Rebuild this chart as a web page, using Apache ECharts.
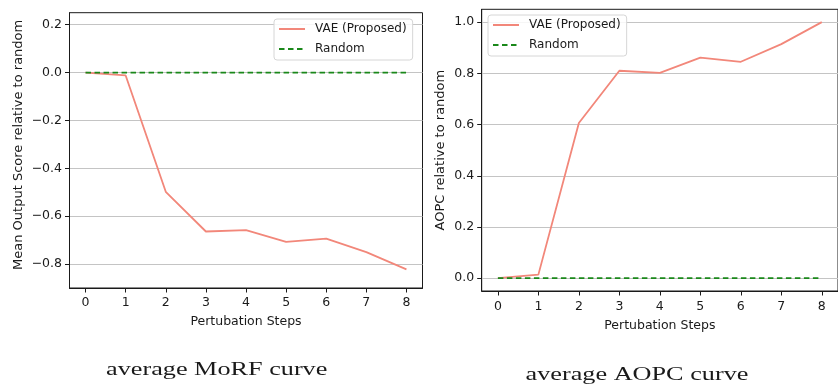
<!DOCTYPE html>
<html>
<head>
<meta charset="utf-8">
<script src="https://cdn.jsdelivr.net/npm/echarts@6/dist/echarts.min.js"></script>
<style>
html,body{margin:0;padding:0;background:#fff;}
#chart{width:838px;height:384px;}
</style>
</head>
<body>
<div id="chart"></div>
<script>
// ---- data ----
const steps = [0, 1, 2, 3, 4, 5, 6, 7, 8];
const morfVae = [0, -0.012, -0.498, -0.664, -0.658, -0.707, -0.694, -0.750, -0.822];
const morfRandom = [0, 0, 0, 0, 0, 0, 0, 0, 0];
const aopcVae = [0, 0.014, 0.606, 0.810, 0.802, 0.861, 0.845, 0.914, 1.000];
const aopcRandom = [0, 0, 0, 0, 0, 0, 0, 0, 0];
const morfYTicks = [-0.8, -0.6, -0.4, -0.2, 0.0, 0.2];
const aopcYTicks = [0.0, 0.2, 0.4, 0.6, 0.8, 1.0];
const seriesNames = ['VAE (Proposed)', 'Random'];
const xName = 'Pertubation Steps';
const morfYName = 'Mean Output Score relative to random';
const aopcYName = 'AOPC relative to random';
const captions = ['average MoRF curve', 'average AOPC curve'];

const pairs = (xs, ys) => xs.map((x, i) => [x, ys[i]]);
const fmt = v => (v < -1e-9 ? '\u2212' : '') + Math.abs(v).toFixed(1);
const FONT = 'DejaVu Sans';
const SALMON = '#f2877a';
const GREEN = '#1a881a';
const TXT = '#1a1a1a';

function xAxisCfg(idx, gap, margin) {
  return {
    type: 'value', gridIndex: idx, min: -0.4, max: 8.4,
    name: xName, nameLocation: 'middle', nameGap: gap,
    nameTextStyle: {fontFamily: FONT, fontSize: 12.5, color: TXT},
    axisLine: {show: true, onZero: false, lineStyle: {color: TXT, width: 1}},
    axisTick: {show: true, inside: false, length: 4.5, customValues: steps, lineStyle: {color: TXT, width: 1}},
    axisLabel: {customValues: steps, margin: margin, fontFamily: FONT, fontSize: 12.5, color: TXT},
    splitLine: {show: false}
  };
}
function yAxisCfg(idx, min, max, ticks, name, gap, namePad) {
  return {
    type: 'value', gridIndex: idx, min: min, max: max,
    name: name, nameLocation: 'middle', nameGap: gap,
    nameTextStyle: {fontFamily: FONT, fontSize: 13, color: TXT, padding: namePad},
    axisLine: {show: true, onZero: false, lineStyle: {color: TXT, width: 1}},
    axisTick: {show: true, inside: false, length: 4.5, customValues: ticks, lineStyle: {color: TXT, width: 1}},
    axisLabel: {customValues: ticks, margin: 7.5, fontFamily: FONT, fontSize: 12.5, color: TXT, formatter: fmt},
    splitLine: {show: true, lineStyle: {color: '#c4c4c4', width: 1}}
  };
}
function legendCfg(left, top) {
  return {
    data: seriesNames, orient: 'vertical', left: left, top: top,
    padding: [4, 6, 5, 4], itemWidth: 26, itemHeight: 12, itemGap: 8,
    borderColor: '#d6d6d6', borderWidth: 1, borderRadius: 3,
    backgroundColor: 'rgba(255,255,255,0.85)',
    itemStyle: {color: 'rgba(0,0,0,0)', borderWidth: 0, opacity: 0},
    textStyle: {fontFamily: FONT, fontSize: 12, color: TXT, padding: [0, 0, 0, 5]}
  };
}
const vaeLine = {color: SALMON, width: 1.8};
const rndLine = {color: GREEN, width: 1.8, type: [5.5, 3.5]};

const chart = echarts.init(document.getElementById('chart'), null, {renderer: 'canvas'});
chart.setOption({
  animation: false,
  backgroundColor: '#fff',
  grid: [
    {left: 69.5, top: 12.7, width: 353, height: 275.3, show: true, borderColor: TXT, borderWidth: 1, backgroundColor: 'transparent'},
    {left: 481.7, top: 9.3, width: 360.8, height: 281.7, show: true, borderColor: TXT, borderWidth: 1, backgroundColor: 'transparent'}
  ],
  xAxis: [xAxisCfg(0, 27, 8.5), xAxisCfg(1, 28, 9.5)],
  yAxis: [
    yAxisCfg(0, -0.9, 0.25, morfYTicks, morfYName, 44, [0, 0, 0, 11]),
    yAxisCfg(1, -0.05, 1.05, aopcYTicks, aopcYName, 35, [0, 0, 0, 0])
  ],
  legend: [legendCfg(274, 19), legendCfg(488, 15)],
  series: [
    {name: seriesNames[0], type: 'line', xAxisIndex: 0, yAxisIndex: 0, data: pairs(steps, morfVae),
     symbol: 'none', lineStyle: vaeLine, itemStyle: {color: SALMON}},
    {name: seriesNames[1], type: 'line', xAxisIndex: 0, yAxisIndex: 0, data: pairs(steps, morfRandom),
     symbol: 'none', lineStyle: rndLine, itemStyle: {color: GREEN}},
    {name: seriesNames[0], type: 'line', xAxisIndex: 1, yAxisIndex: 1, data: pairs(steps, aopcVae),
     symbol: 'none', lineStyle: vaeLine, itemStyle: {color: SALMON}},
    {name: seriesNames[1], type: 'line', xAxisIndex: 1, yAxisIndex: 1, data: pairs(steps, aopcRandom),
     symbol: 'none', lineStyle: rndLine, itemStyle: {color: GREEN}}
  ],
  graphic: [
    {type: 'text', x: 216.7, y: 370, scaleX: 1.38, style: {text: captions[0], font: '19px "Liberation Serif"', fill: TXT, align: 'center', verticalAlign: 'middle'}},
    {type: 'text', x: 637, y: 375, scaleX: 1.38, style: {text: captions[1], font: '19px "Liberation Serif"', fill: TXT, align: 'center', verticalAlign: 'middle'}}
  ]
});
</script>
</body>
</html>
